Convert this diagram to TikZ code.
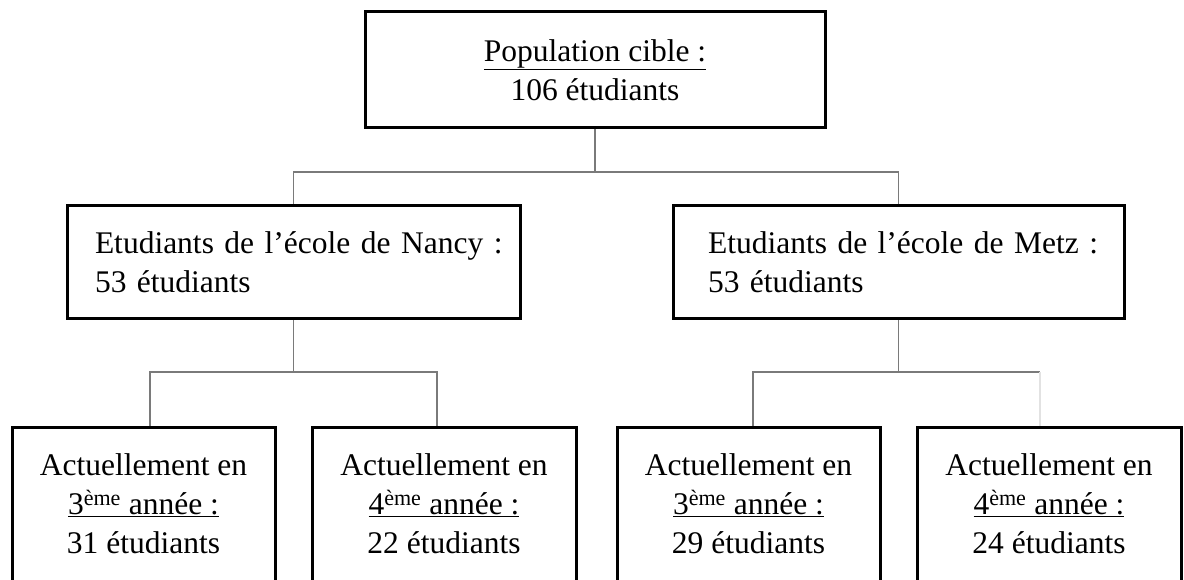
\documentclass[tikz,border=0pt]{standalone}
\usepackage{fontspec}
\setmainfont{Liberation Serif}
\definecolor{connc}{HTML}{7A7A7A}
\definecolor{faintc}{HTML}{E2E2E2}
\newcommand{\btext}[2]{Actuellement en\\\underline{#1\textsuperscript{ème} année :}\\#2 étudiants}
\begin{document}
\begin{tikzpicture}[x=1pt,y=-1pt,
  txt/.style={font=\fontsize{31.5}{39}\selectfont},
  box/.style={draw=black,line width=3pt,inner sep=0pt,fill=white,txt},
  lowbox/.style={box,minimum height=162pt,anchor=north},
  lowlab/.style={txt,align=center,yshift=5pt},
  conn/.style={draw=connc,line width=1.5pt},
  faint/.style={draw=faintc,line width=1.5pt}]
\useasboundingbox[fill=white] (0,0) rectangle (1184,580);

\node[box,minimum width=460pt,minimum height=116pt,align=center] (top) at (595,70)
  {\underline{Population cible :}\\106 étudiants};

\node[box,minimum width=453pt,minimum height=113pt,text width=397pt,align=left] (nancy) at (293.5,262)
  {\mbox{Etudiants de l’école de Nancy :}\\\mbox{53 étudiants}};
\node[box,minimum width=451pt,minimum height=113pt,text width=381pt,align=left] (metz) at (898.5,262)
  {\mbox{Etudiants de l’école de Metz :}\\\mbox{53 étudiants}};

\node[lowbox,minimum width=263pt,label={[lowlab]center:\btext{3}{31}}] (n3) at (143.5,426) {};
\node[lowbox,minimum width=264pt,label={[lowlab]center:\btext{4}{22}}] (n4) at (444,426) {};
\node[lowbox,minimum width=263pt,label={[lowlab]center:\btext{3}{29}}] (m3) at (748.5,426) {};
\node[lowbox,minimum width=264pt,label={[lowlab]center:\btext{4}{24}}] (m4) at (1049,426) {};

\coordinate (b0) at (595,172);
\coordinate (b1) at (293.5,372);
\coordinate (b2) at (898.5,372);

\draw[conn] (top.south) -- (b0);
\draw[conn] (nancy.north) |- (b0) -| (metz.north);

\draw[conn] (nancy.south) -- (b1);
\draw[conn] ([xshift=6.5pt]n3.north) |- (b1) -| ([xshift=-7pt]n4.north);

\draw[conn] (metz.south) -- (b2);
\draw[conn] ([xshift=4.5pt]m3.north) |- (b2) -- ([xshift=-9pt]m4.north |- b2);
\draw[faint] ([xshift=-9pt]m4.north |- b2) -- ([xshift=-9pt]m4.north);
\end{tikzpicture}
\end{document}
